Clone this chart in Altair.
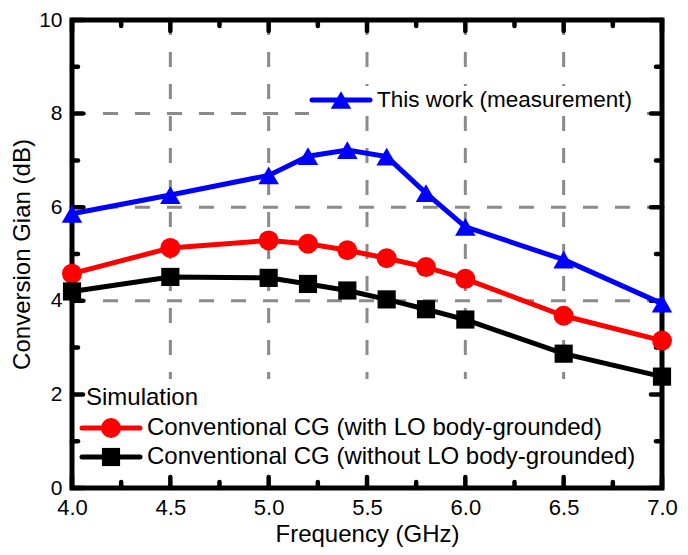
import altair as alt
import pandas as pd

# ---------------- data ----------------
freq = [4.0, 4.5, 5.0, 5.2, 5.4, 5.6, 5.8, 6.0, 6.5, 7.0]
gain_meas = [5.86, 6.26, 6.68, 7.09, 7.22, 7.08, 6.30, 5.58, 4.88, 3.94]
gain_with = [4.58, 5.13, 5.29, 5.22, 5.08, 4.91, 4.72, 4.47, 3.68, 3.15]
gain_without = [4.20, 4.51, 4.49, 4.36, 4.22, 4.03, 3.82, 3.60, 2.87, 2.38]

series_names = [
    "This work (measurement)",
    "Conventional CG (with LO body-grounded)",
    "Conventional CG (without LO body-grounded)",
]
series_colors = ["#0000ff", "#ff0000", "#000000"]
series_shapes = ["triangle-up", "circle", "square"]
legend_title = "Simulation"

x_ticks = [4.0, 4.5, 5.0, 5.5, 6.0, 6.5, 7.0]
x_minor = [4.25, 4.75, 5.25, 5.75, 6.25, 6.75]
y_ticks = [0, 2, 4, 6, 8, 10]
y_minor = [1, 3, 5, 7, 9]
grid_x = [4.5, 5.0, 5.5, 6.0, 6.5]
grid_y = [2, 4, 6, 8]

x_title = "Frequency (GHz)"
y_title = "Conversion Gian (dB)"

# ---------------- layout ----------------
W, H = 590, 468
FONT = "Liberation Sans"

rows = []
for name, vals in zip(series_names, [gain_meas, gain_with, gain_without]):
    for f, g in zip(freq, vals):
        rows.append({"freq": f, "gain": g, "series": name})
df = pd.DataFrame(rows)

xs = alt.Scale(domain=[4, 7], nice=False, zero=False)
ys = alt.Scale(domain=[0, 10], nice=False)

AX = alt.Axis(values=x_ticks, format=".1f", title=x_title, grid=False, ticks=False, domain=False,
              labelFontSize=22, labelFont=FONT, labelColor="black", labelPadding=9,
              labelFlush=False, labelOverlap=False,
              titleFontSize=24, titleFont=FONT, titleFontWeight="normal", titleColor="black",
              titlePadding=4)
AY = alt.Axis(values=y_ticks, format="d", title=y_title, grid=False, ticks=False, domain=False,
              labelFontSize=21, labelFont=FONT, labelColor="black", labelPadding=10,
              labelFlush=False, labelOverlap=False,
              titleFontSize=24, titleFont=FONT, titleFontWeight="normal", titleColor="black",
              titleX=-50, titleY=H / 2, titleBaseline="middle", titleAngle=270)


def X(field):
    return alt.X(field, scale=xs, axis=AX)


def Y(field):
    return alt.Y(field, scale=ys, axis=AY)


one = alt.Data(values=[{"a": 1}])

# frame
frame = alt.Chart(one).mark_rect(fill=None, stroke="black", strokeWidth=5).encode(
    x=alt.value(0), x2=alt.value(W), y=alt.value(0), y2=alt.value(H)
)

# gridlines
GRID = dict(color="#8a8a8a", strokeWidth=3, strokeDash=[15, 17])
gx = alt.Chart(pd.DataFrame({"v": grid_x})).mark_rule(**GRID).encode(x=X("v:Q"))
gy = alt.Chart(pd.DataFrame({"v": grid_y})).mark_rule(**GRID).encode(y=Y("v:Q"))

# white legend boxes
box_sim = alt.Chart(one).mark_rect(fill="white").encode(
    x=alt.value(3), x2=alt.value(587), y=alt.value(359), y2=alt.value(465))
box_meas = alt.Chart(one).mark_rect(fill="white").encode(
    x=alt.value(237), x2=alt.value(563), y=alt.value(66), y2=alt.value(95))


# ticks
def xtick(vals, length, top):
    y0 = 0 if top else H
    y1 = length if top else H - length
    return alt.Chart(pd.DataFrame({"v": vals})).mark_rule(
        color="black", strokeWidth=4.5, strokeCap="round").encode(
        x=X("v:Q"), y=alt.value(y0), y2=alt.value(y1))


def ytick(vals, length, right):
    x0 = W if right else 0
    x1 = W - length if right else length
    return alt.Chart(pd.DataFrame({"v": vals})).mark_rule(
        color="black", strokeWidth=4.5, strokeCap="round").encode(
        y=Y("v:Q"), x=alt.value(x0), x2=alt.value(x1))


ticks = [xtick(x_ticks, 11, False), xtick(x_ticks, 11, True),
         xtick(x_minor, 6, False), xtick(x_minor, 6, True),
         ytick(y_ticks, 11, False), ytick(y_ticks, 11, True),
         ytick(y_minor, 6, False), ytick(y_minor, 6, True)]

# data
sizes = [420, 400, 330]
data_layers = []
for name, col, shp, sz in zip(series_names, series_colors, series_shapes, sizes):
    base = alt.Chart(df).transform_filter(alt.datum.series == name)
    line = base.mark_line(color=col, strokeWidth=5).encode(x=X("freq:Q"), y=Y("gain:Q"))
    pts = base.mark_point(color=col, fill=col, filled=True, shape=shp, size=sz, opacity=1).encode(
        x=X("freq:Q"), y=Y("gain:Q"))
    data_layers += [line, pts]


# legend
def entry(name, col, shp, sz, lx, ly, text_x, fs):
    lin = alt.Chart(one).mark_rule(color=col, strokeWidth=5, strokeCap="round").encode(
        x=alt.value(lx), x2=alt.value(lx + 58), y=alt.value(ly))
    pt = alt.Chart(one).mark_point(color=col, fill=col, filled=True, shape=shp, size=sz, opacity=1).encode(
        x=alt.value(lx + 29), y=alt.value(ly))
    tx = alt.Chart(one).mark_text(text=name, align="left", baseline="middle", font=FONT,
                                  fontSize=fs, color="black").encode(
        x=alt.value(text_x), y=alt.value(ly))
    return [lin, pt, tx]


legend_layers = []
legend_layers += entry(series_names[0], series_colors[0], series_shapes[0], sizes[0], 240, 80, 305, 22.5)
legend_layers.append(alt.Chart(one).mark_text(text=legend_title, align="left", baseline="middle",
                                              font=FONT, fontSize=24, color="black").encode(
    x=alt.value(14), y=alt.value(378)))
legend_layers += entry(series_names[1], series_colors[1], series_shapes[1], sizes[1], 10, 408, 75, 24)
legend_layers += entry(series_names[2], series_colors[2], series_shapes[2], sizes[2], 10, 437, 75, 24)

chart = alt.layer(
    gx, gy, box_sim, box_meas, frame, *ticks, *data_layers, *legend_layers
).properties(
    width=W, height=H,
    autosize=alt.AutoSizeParams(type="none"),
    padding={"left": 64, "top": 12, "right": 16, "bottom": 59},
).configure_view(stroke=None).configure(background="white")

chart.save("out.html", embed_options={"renderer": "svg", "actions": False})
